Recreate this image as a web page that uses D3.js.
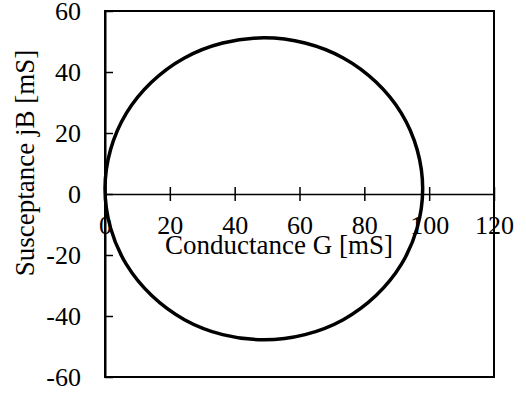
<!DOCTYPE html>
<html>
<head>
<meta charset="utf-8">
<script src="https://cdn.jsdelivr.net/npm/d3@7"></script>
<style>
  body { margin: 0; background: #fff; }
  svg text { font-family: "Liberation Serif", "Times New Roman", serif; font-size: 26px; fill: #000; }
</style>
</head>
<body>
<svg id="chart" width="526" height="394"></svg>
<script>
// admittance locus (G, B in mS)
var conductance = [98.0, 96.3, 91.4, 83.6, 73.5, 61.7, 49.0, 36.3, 24.5, 14.4, 6.6, 1.7,
                   0.0, 1.7, 6.6, 14.4, 24.5, 36.3, 49.0, 61.7, 73.5, 83.6, 91.4, 96.3];
var susceptance = [1.7, 14.5, 26.5, 36.7, 44.6, 49.5, 51.2, 49.5, 44.6, 36.7, 26.5, 14.5,
                   1.7, -11.1, -23.1, -33.3, -41.2, -46.1, -47.8, -46.1, -41.2, -33.3, -23.1, -11.1];
var xTicks = [0, 20, 40, 60, 80, 100, 120];
var yTicks = [-60, -40, -20, 0, 20, 40, 60];

var svg = d3.select("#chart");
var plotL = 105, plotR = 494, plotT = 11, plotB = 377;

var x = d3.scaleLinear().domain([0, 120]).range([plotL, plotR]);
var y = d3.scaleLinear().domain([-60, 60]).range([plotB, plotT]);
var fmt = function(d) { return String(d); }; // plain hyphen minus

// plot frame
svg.append("rect")
    .attr("x", plotL).attr("y", plotT)
    .attr("width", plotR - plotL).attr("height", plotB - plotT)
    .attr("fill", "none").attr("stroke", "#000").attr("stroke-width", 2);

// y axis, ticks inside
var gy = svg.append("g")
    .attr("transform", "translate(" + plotL + ",0)")
    .call(d3.axisLeft(y).tickValues(yTicks).tickFormat(fmt)
      .tickSizeInner(-8).tickSizeOuter(0).tickPadding(24));
gy.select(".domain").attr("stroke-width", 2);
gy.selectAll(".tick line").attr("stroke-width", 1.5);
gy.selectAll("text").attr("font-size", null).attr("font-family", null);

// x axis crossing at B = 0
var gx = svg.append("g")
    .attr("transform", "translate(0," + y(0) + ")")
    .call(d3.axisBottom(x).tickValues(xTicks).tickFormat(fmt).tickSizeOuter(0));
gx.select(".domain").attr("stroke-width", 1.5);
gx.selectAll(".tick line").attr("y1", -7).attr("y2", 7).attr("stroke-width", 1.5);
gx.selectAll("text").attr("y", 40).attr("dy", null).attr("font-size", null).attr("font-family", null);

svg.selectAll(".domain, .tick line").attr("stroke", "#000");

// locus
var pts = conductance.map(function(g, i) { return [g, susceptance[i]]; });
var line = d3.line()
    .x(function(d) { return x(d[0]); })
    .y(function(d) { return y(d[1]); })
    .curve(d3.curveCatmullRomClosed);

svg.append("path")
    .datum(pts)
    .attr("d", line)
    .attr("fill", "none")
    .attr("stroke", "#000")
    .attr("stroke-width", 3.5);

// axis titles
svg.append("text")
    .attr("x", 279).attr("y", 254)
    .attr("text-anchor", "middle")
    .style("font-size", "27px")
    .text("Conductance G [mS]");

svg.append("text")
    .attr("transform", "translate(34,163) rotate(-90)")
    .attr("text-anchor", "middle")
    .style("font-size", "27px")
    .text("Susceptance jB [mS]");
</script>
</body>
</html>
